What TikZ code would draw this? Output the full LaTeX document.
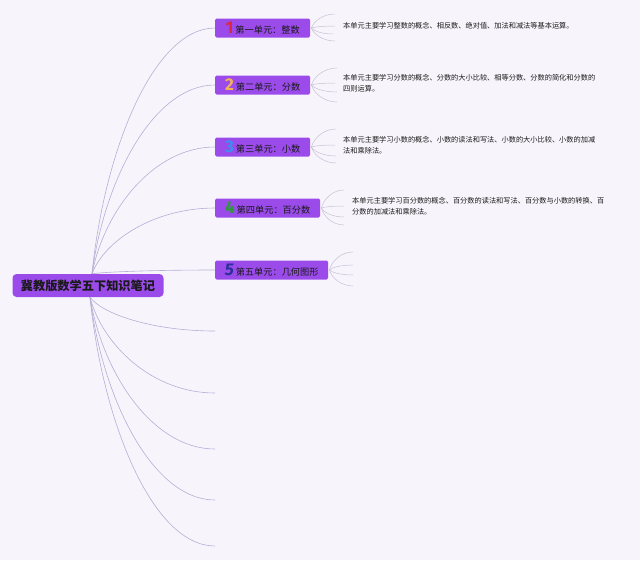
\documentclass[tikz,border=0pt]{standalone}
\usepackage{fontspec}
\setmainfont{Noto Sans CJK SC}
\newfontfamily\numfont{Fira Sans}
\usetikzlibrary{calc}
\definecolor{bg}{HTML}{F7F5FB}
\definecolor{boxpurple}{HTML}{9A4BEA}
\definecolor{rootline}{HTML}{B6AED6}
\definecolor{fanline}{HTML}{C6C0D6}
\definecolor{nA}{HTML}{E0283C}
\definecolor{nB}{HTML}{F2B15A}
\definecolor{nC}{HTML}{3E8EF0}
\definecolor{nD}{HTML}{2E9B3A}
\definecolor{nE}{HTML}{2C2F9C}
\definecolor{txt}{HTML}{1A1A1A}
\newcommand\unum[2]{{\numfont\fontsize{17}{17}\selectfont\bfseries\color{#1}#2}}
\tikzset{
  branch/.style={to path={let \p1=(\tikztostart), \p2=(\tikztotarget) in
     .. controls (\x1+0.1*\x2-0.1*\x1, 0.5*\y1+0.5*\y2) and (0.5*\x1+0.5*\x2, \y2) .. (\tikztotarget)}},
  rootbox/.style={fill=boxpurple, rounded corners=4pt, minimum width=151pt, minimum height=23pt,
     inner sep=0pt, text=txt, font=\fontsize{12.2}{12}\selectfont\bfseries},
  unitbox/.style={fill=boxpurple, rounded corners=1.5pt, anchor=west, minimum height=19pt,
     inner sep=0pt, text=txt, font=\fontsize{9.2}{10}\selectfont},
  desc/.style={anchor=west, inner xsep=8pt, inner ysep=0pt, align=left, text=txt,
     font=\fontsize{7.2}{10.5}\selectfont},
  rootedge/.style={draw=rootline, line width=0.6pt},
  fanedge/.style={draw=fanline, line width=0.5pt},
}
\begin{document}
\begin{tikzpicture}[x=1pt,y=-1pt]
\fill[bg] (0,0) rectangle (640,560);
\useasboundingbox (0,0) rectangle (640,560);

% root
\node[rootbox] (root) at (88,285.5) {冀教版数学五下知识笔记};

% units
\node[unitbox, minimum width=95pt] (u1) at (215,28) {\unum{nA}{1}\hspace{2pt}第一单元：整数};
\node[unitbox, minimum width=95pt] (u2) at (215,85) {\unum{nB}{2}\hspace{2pt}第二单元：分数};
\node[unitbox, minimum width=95pt] (u3) at (215,147) {\unum{nC}{3}\hspace{2pt}第三单元：小数};
\node[unitbox, minimum width=105pt] (u4) at (215,208) {\unum{nD}{4}\hspace{2pt}第四单元：百分数};
\node[unitbox, minimum width=113pt] (u5) at (215,270) {\unum{nE}{\itshape 5}\hspace{2pt}第五单元：几何图形};

% hidden lower branches
\coordinate (h1) at (215,331);
\coordinate (h2) at (215,393);
\coordinate (h3) at (215,449);
\coordinate (h4) at (215,500);
\coordinate (h5) at (215,546);

% root edges
\foreach \u in {u1,u2,u3,u4,u5}
  \draw[rootedge] ([xshift=4pt]root.north) to[branch] (\u.west);
\foreach \h in {h1,h2,h3,h4,h5}
  \draw[rootedge] ([xshift=2pt]root.south) to[branch] (\h);

% descriptions
\node[desc] (d1) at (335,26) {本单元主要学习整数的概念、相反数、绝对值、加法和减法等基本运算。};
\node[desc] (d2) at (335,83) {本单元主要学习分数的概念、分数的大小比较、相等分数、分数的简化和分数的\\四则运算。};
\node[desc] (d3) at (335,145) {本单元主要学习小数的概念、小数的读法和写法、小数的大小比较、小数的加减\\法和乘除法。};
\node[desc] (d4) at (344,206) {本单元主要学习百分数的概念、百分数的读法和写法、百分数与小数的转换、百\\分数的加减法和乘除法。};

% fan end points
\coordinate (f1a) at (335,14);
\coordinate (f1c) at (333,34);
\coordinate (f1d) at (335,41);
\coordinate (f2a) at (337,68);
\coordinate (f2c) at (337,92);
\coordinate (f2d) at (337,102);
\coordinate (f3a) at (336,129);
\coordinate (f3c) at (336,156);
\coordinate (f3d) at (336,163);
\coordinate (f4a) at (344,190);
\coordinate (f4c) at (344,217);
\coordinate (f4d) at (344,225);
\coordinate (f5a) at (353,252);
\coordinate (f5b) at (353,265);
\coordinate (f5c) at (353,275);
\coordinate (f5d) at (353,286);

% fans
\foreach \t in {f1a,d1.west,f1c,f1d} \draw[fanedge] ([xshift=1pt]u1.east) to[branch] (\t);
\foreach \t in {f2a,d2.west,f2c,f2d} \draw[fanedge] ([xshift=1pt]u2.east) to[branch] (\t);
\foreach \t in {f3a,d3.west,f3c,f3d} \draw[fanedge] ([xshift=1pt]u3.east) to[branch] (\t);
\foreach \t in {f4a,d4.west,f4c,f4d} \draw[fanedge] ([xshift=1pt]u4.east) to[branch] (\t);
\foreach \t in {f5a,f5b,f5c,f5d} \draw[fanedge] ([xshift=1pt]u5.east) to[branch] (\t);
\end{tikzpicture}
\end{document}
